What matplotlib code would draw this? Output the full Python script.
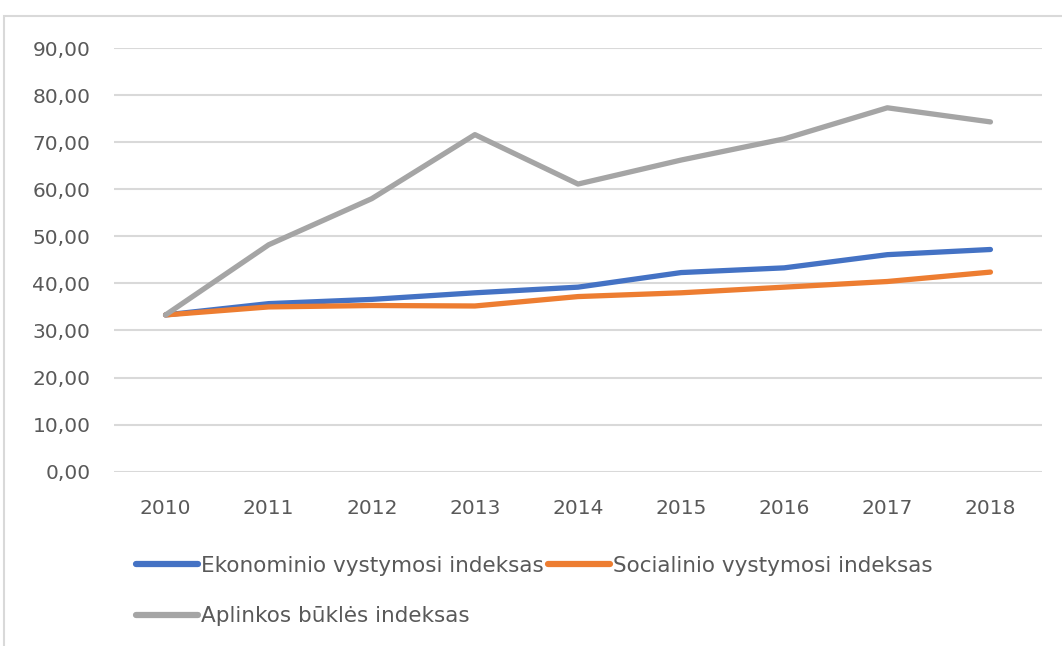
import matplotlib.pyplot as plt
from matplotlib.patches import Rectangle
from matplotlib.ticker import FuncFormatter, MultipleLocator
import numpy as np

# Indeksai 2010-2018
years = ['2010', '2011', '2012', '2013', '2014', '2015', '2016', '2017', '2018']
ekonominio = [33.3, 35.7, 36.6, 38.0, 39.2, 42.3, 43.3, 46.1, 47.2]
socialinio = [33.3, 35.0, 35.3, 35.2, 37.2, 38.0, 39.2, 40.4, 42.4]
aplinkos = [33.3, 48.2, 58.0, 71.6, 61.1, 66.2, 70.7, 77.3, 74.3]

labels = ['Ekonominio vystymosi indeksas',
          'Socialinio vystymosi indeksas',
          'Aplinkos būklės indeksas']
colors = ['#4472C4', '#ED7D31', '#A5A5A5']

text_color = '#595959'
grid_color = '#D9D9D9'
W, H = 1062, 646

plt.rcParams['font.family'] = ['DejaVu Sans']

fig = plt.figure(figsize=(W / 100, H / 100), dpi=100)
ax = fig.add_axes([114 / W, 1 - 471.7 / H, 928 / W, (471.7 - 48) / H])

# chart border (Excel style)
fig.patches.append(Rectangle((4 / W, -0.1), 1.2, 1 - 16 / H + 0.1,
                             transform=fig.transFigure, fill=False,
                             edgecolor=grid_color, linewidth=1.5))

x = np.arange(len(years))
lines = []
for vals, lab, col in zip([ekonominio, socialinio, aplinkos], labels, colors):
    ln, = ax.plot(x, vals, color=col, linewidth=3.8, label=lab,
                  solid_capstyle='round', solid_joinstyle='round', zorder=3)
    lines.append(ln)

ax.set_xlim(-0.5, len(years) - 0.5)
ax.set_ylim(0, 90)
ax.yaxis.set_major_locator(MultipleLocator(10))
ax.yaxis.set_major_formatter(FuncFormatter(lambda v, p: f'{v:.2f}'.replace('.', ',')))
ax.set_xticks(x)
ax.set_xticklabels(years)

ax.grid(axis='y', color=grid_color, linewidth=1.5)
ax.set_axisbelow(True)
for s in ax.spines.values():
    s.set_visible(False)
ax.tick_params(axis='both', length=0, labelsize=14.5, labelcolor=text_color)
ax.tick_params(axis='y', pad=17)
ax.tick_params(axis='x', pad=20)

# order handles so the legend reads row-wise
order = [0, 2, 1]
leg = fig.legend([lines[i] for i in order], [labels[i] for i in order],
                 loc='upper left', bbox_to_anchor=(136 / W, 1 - 556 / H),
                 ncol=2, frameon=False, fontsize=15.5, borderpad=0,
                 borderaxespad=0, handlelength=2.9, handletextpad=0.12,
                 columnspacing=0.2, labelspacing=1.4)
for t in leg.get_texts():
    t.set_color(text_color)
for h in leg.get_lines():
    h.set_linewidth(4.5)

fig.savefig('out.png', dpi=100, facecolor='white')
